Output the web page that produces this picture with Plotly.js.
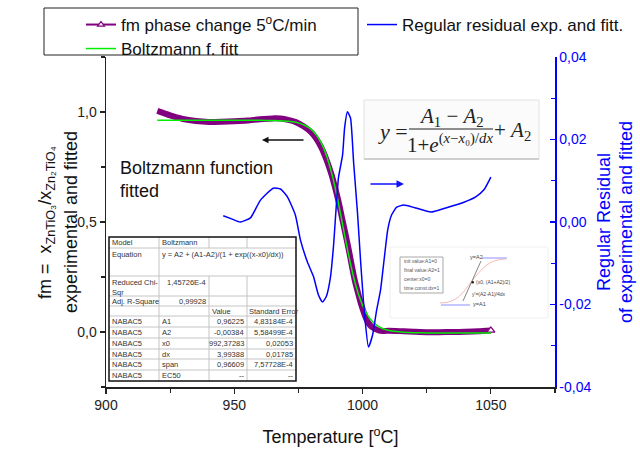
<!DOCTYPE html>
<html><head><meta charset="utf-8">
<script src="https://cdn.plot.ly/plotly-3.0.1.min.js"></script>
<style>html,body{margin:0;padding:0;background:#fff}#chart{width:640px;height:450px}</style>
</head><body><div id="chart"></div>
<script>
// ---------------- data ----------------
const temperature = [920,922.5,925,927.5,930,935,940,945,950,955,960,965,968,971,974,977,980,982,984,986,988,989,990,991,992,993,994,995,996,997,998,999,1000,1001,1002,1003,1004,1006,1008,1010,1013,1016,1020,1025,1030,1035,1040,1045,1050];
const fmExperimental = [1.005,0.995,0.985,0.976,0.968,0.959,0.955,0.956,0.958,0.961,0.967,0.971,0.970,0.964,0.954,0.935,0.907,0.878,0.837,0.781,0.712,0.669,0.624,0.574,0.518,0.464,0.409,0.351,0.290,0.233,0.188,0.144,0.105,0.072,0.046,0.030,0.020,0.008,0.004,0.006,0.005,0.003,0.001,-0.001,-0.001,0.000,0.001,0.003,0.007];
const fmFitted = [0.962,0.962,0.962,0.962,0.962,0.962,0.962,0.962,0.962,0.962,0.962,0.961,0.960,0.958,0.953,0.942,0.921,0.895,0.857,0.799,0.720,0.672,0.619,0.561,0.502,0.441,0.382,0.326,0.274,0.227,0.186,0.151,0.121,0.096,0.076,0.059,0.046,0.027,0.015,0.008,0.002,-0.001,-0.003,-0.004,-0.004,-0.004,-0.004,-0.004,-0.004];
const residualTemperature = [945.7,949.2,952.3,956.3,960.2,965.2,968,970.7,973.8,975.8,978.5,980.9,982.8,984.4,985.9,987.5,988.7,990.6,992.2,993,994.1,995.3,996.5,998,999.2,1000.8,1002.3,1003.9,1005.5,1007,1008.6,1009.8,1011.3,1013.3,1016,1020.7,1026.6,1032.4,1039.5,1044.1,1047.3,1050];
const residualValues = [0.0015,0.0007,0.0000,0.0010,0.0053,0.0082,0.0080,0.0061,0.0017,-0.0044,-0.0097,-0.0133,-0.0177,-0.0194,-0.0180,-0.0133,-0.0056,0.0107,0.0162,0.0228,0.0267,0.0252,0.0145,0.0024,-0.0092,-0.0225,-0.0303,-0.0274,-0.0213,-0.0165,-0.0080,-0.0019,0.0017,0.0036,0.0041,0.0034,0.0024,0.0034,0.0048,0.0061,0.0078,0.0109];

const xTickValues = [900,950,1000,1050];
const xTickLabels = ['900','950','1000','1050'];
const yTickValues = [0,0.5,1];
const yTickLabels = ['0,0','0,5','1,0'];
const y2TickValues = [-0.04,-0.02,0,0.02,0.04];
const y2TickLabels = ['-0,04','-0,02','0,00','0,02','0,04'];

const tableModelRow = ['Model','Boltzmann'];
const tableEquationRow = ['Equation','y = A2 + (A1-A2)/(1 + exp((x-x0)/dx))'];
const tableStatNames = ['Reduced Chi-<br>Sqr','Adj. R-Square'];
const tableStatValues = ['1,45726E-4','0,99928'];
const tableHeader = ['Value','Standard Error'];
const datasetName = 'NABAC5';
const paramNames = ['A1','A2','x0','dx','span','EC50'];
const paramValues = ['0,96225','-0,00384','992,37283','3,99388','0,96609','--'];
const paramErrors = ['4,83184E-4','5,58499E-4','0,02053','0,01785','7,57728E-4','--'];
const insetParams = ['init value:A1=0','final value:A2=1','center:x0=0','time const:dx=1'];

// ---------------- helpers (pixel -> paper) ----------------
const L=106,R=555,T=57,B=387;
const fx = v => (v-L)/(R-L);
const fy = v => (B-v)/(B-T);
const shapes = [];
const annotations = [];
function rect(x0,y0,x1,y1,line,fill,layer){shapes.push({type:'rect',xref:'paper',yref:'paper',x0:fx(x0),x1:fx(x1),y0:fy(y0),y1:fy(y1),line:line,fillcolor:fill||'rgba(0,0,0,0)',layer:layer||'above'});}
function seg(x0,y0,x1,y1,color,w){shapes.push({type:'line',xref:'paper',yref:'paper',x0:fx(x0),x1:fx(x1),y0:fy(y0),y1:fy(y1),line:{color:color,width:w},layer:'above'});}
function txt(text,x,y,opt){annotations.push(Object.assign({text:text,xref:'paper',yref:'paper',x:fx(x),y:fy(y),showarrow:false,xanchor:'left',yanchor:'middle',borderpad:0,font:{family:'Arial, Liberation Sans',size:7.5,color:'#333'}},opt||{}));}

// ---------------- table ----------------
const cx=[109,159,209,247,296];
const ry=[237,248,276,296,306,316,327,338,349,359,370,381];
rect(cx[0],ry[0],cx[4],ry[ry.length-1],{width:0},'#fff');
const grid='#c4c4c4';
for(let i=1;i<ry.length-1;i++) seg(cx[0],ry[i],cx[4],ry[i],grid,1);
seg(cx[1],ry[0],cx[1],ry[ry.length-1],grid,1);
[cx[2],cx[3]].forEach(c=>{seg(c,ry[0],c,ry[1],grid,1);seg(c,ry[2],c,ry[ry.length-1],grid,1);});
rect(cx[0],ry[0],cx[4],ry[ry.length-1],{color:'#111',width:1.5});
txt(tableModelRow[0],cx[0]+2,(ry[0]+ry[1])/2);
txt(tableModelRow[1],cx[1]+2,(ry[0]+ry[1])/2);
txt(tableEquationRow[0],cx[0]+2,ry[1]+1,{yanchor:'top'});
txt(tableEquationRow[1],cx[1]+2,ry[1]+1,{yanchor:'top'});
txt(tableStatNames[0],cx[0]+2,ry[2]+1,{yanchor:'top',align:'left'});
txt(tableStatValues[0],cx[2]-2,ry[2]+1,{yanchor:'top',xanchor:'right'});
txt(tableStatNames[1],cx[0]+2,(ry[3]+ry[4])/2);
txt(tableStatValues[1],cx[2]-2,(ry[3]+ry[4])/2,{xanchor:'right'});
txt(tableHeader[0],cx[2]+2,(ry[4]+ry[5])/2);
txt(tableHeader[1],cx[3]+1,(ry[4]+ry[5])/2);
paramNames.forEach((p,i)=>{
  const yc=(ry[5+i]+ry[6+i])/2;
  txt(datasetName,cx[0]+2,yc);
  txt(p,cx[1]+2,yc);
  txt(paramValues[i],cx[3]-2,yc,{xanchor:'right'});
  txt(paramErrors[i],cx[4]-2,yc,{xanchor:'right'});
});

// ---------------- equation box ----------------
rect(364,100,539,159,{color:'#e2e2e2',width:1},'#fbfbfb','below');
seg(364,159,539,159,'#cfcfcf',2);
const serif='Liberation Serif, Times New Roman, serif';
txt('<i>y</i> =',393,131,{xanchor:'center',font:{family:serif,size:22,color:'#222'}});
txt('<i>A</i><sub>1</sub> − <i>A</i><sub>2</sub>',451,117,{xanchor:'center',font:{family:serif,size:21,color:'#222'}});
seg(409,129,493,129,'#222',1.2);
txt('1+<i>e</i><sup>(<i>x</i>−<i>x</i>₀)/<i>dx</i></sup>',450,143,{xanchor:'center',font:{family:serif,size:21,color:'#222'}});
txt('+ <i>A</i><sub>2</sub>',512,131,{xanchor:'center',font:{family:serif,size:21,color:'#222'}});

// ---------------- small inset ----------------
rect(390,247,548,318,{color:'#f0f0f0',width:1},'#fff','below');
rect(400,257,443,293,{color:'#a8a8a8',width:1},'#fff','above');
insetParams.forEach((s,i)=>txt(s,403,261+i*9,{font:{family:'Arial',size:5,color:'#555'}}));
seg(441,305,470,305,'#8f8fff',1);
seg(482,258,507,258,'#8f8fff',1);
shapes.push({type:'path',xref:'paper',yref:'paper',layer:'above',line:{color:'#f7b8b8',width:1},
  path:'M'+fx(440)+','+fy(303)+' C'+fx(458)+','+fy(303)+' '+fx(463)+','+fy(292)+' '+fx(472)+','+fy(281)+' S'+fx(488)+','+fy(259)+' '+fx(506)+','+fy(259)});
seg(463,301,481,261,'#666',0.8);
shapes.push({type:'circle',xref:'paper',yref:'paper',x0:fx(471.5),x1:fx(474),y0:fy(283.5),y1:fy(281),fillcolor:'#222',line:{width:0},layer:'above'});
txt('y=A2',469,257,{font:{family:'Arial',size:5.5,color:'#444'}});
txt('(x0, (A1+A2)/2)',475,282,{font:{family:'Arial',size:5,color:'#444'}});
txt("y'=(A2-A1)/4dx",471,294,{font:{family:'Arial',size:5,color:'#444'}});
txt('y=A1',472,304,{font:{family:'Arial',size:5.5,color:'#444'}});

// ---------------- other annotations ----------------
txt('Boltzmann function<br>fitted',119,179,{align:'left',font:{family:'Arial, Liberation Sans',size:18,color:'#111'}});
annotations.push({xref:'paper',yref:'paper',x:fx(262),y:fy(140),ax:43,ay:0,text:'',showarrow:true,arrowhead:2,arrowsize:1,arrowwidth:1.3,arrowcolor:'#111'});
annotations.push({xref:'paper',yref:'paper',x:fx(404),y:fy(184),ax:-35,ay:0,text:'',showarrow:true,arrowhead:2,arrowsize:1,arrowwidth:1.5,arrowcolor:'#1010ff'});

// y-axis titles (rotated text)
const titleFont={family:'Arial, Liberation Sans',size:18,color:'#111'};
txt('fm =  x<sub>ZnTiO₃</sub>/x<sub>Zn₂TiO₄</sub>',46,222,{xanchor:'center',textangle:-90,font:titleFont});
txt('experimental and fitted',71,222,{xanchor:'center',textangle:-90,font:titleFont});
const titleFontBlue=Object.assign({},titleFont,{color:'#0000ff'});
txt('Regular Residual',604,222,{xanchor:'center',textangle:-90,font:titleFontBlue});
txt('of experimental and fitted',626,222,{xanchor:'center',textangle:-90,font:titleFontBlue});

// legend frame
shapes.push({type:'rect',xref:'paper',yref:'paper',x0:fx(44),x1:fx(358),y0:fy(55),y1:fy(8),line:{color:'#222',width:1},fillcolor:'rgba(0,0,0,0)'});

// ---------------- traces ----------------
const purple='#800080';
const traces = [
  {x:temperature,y:fmExperimental,mode:'lines',line:{color:purple,width:6,shape:'spline',smoothing:0.6},showlegend:false,hoverinfo:'skip'},
  {x:[temperature[temperature.length-1]],y:[fmExperimental[fmExperimental.length-1]],mode:'markers',marker:{symbol:'triangle-up',size:7,color:'#fff',line:{color:purple,width:1.3}},showlegend:false},
  {x:[null],y:[null],mode:'lines+markers',name:'fm phase change 5<sup>o</sup>C/min',line:{color:purple,width:2},marker:{symbol:'triangle-up',size:6,color:'#fff',line:{color:purple,width:1.2}},legend:'legend'},
  {x:temperature,y:fmFitted,mode:'lines',name:'Boltzmann f. fitt',line:{color:'#00ee00',width:1.5,shape:'spline',smoothing:0.6},legend:'legend3'},
  {x:residualTemperature,y:residualValues,yaxis:'y2',mode:'lines',name:'Regular residual exp. and fitt.',line:{color:'#0000ff',width:1.5,shape:'spline',smoothing:0.5},legend:'legend2'}
];

const blue='#0000ff';
const legendBase={xref:'container',yref:'container',xanchor:'left',yanchor:'top',bgcolor:'rgba(0,0,0,0)',borderwidth:0,font:{size:17,color:'#111'}};
const layout = {
  width:640,height:450,
  margin:{l:L,r:640-R,t:T,b:450-B,autoexpand:false},
  paper_bgcolor:'#fff',plot_bgcolor:'rgba(0,0,0,0)',
  font:{family:'Arial, Liberation Sans, sans-serif',size:14,color:'#222'},
  showlegend:true,
  legend:Object.assign({x:81/640,y:1-7/450},legendBase),
  legend3:Object.assign({x:81/640,y:1-31/450},legendBase),
  legend2:Object.assign({x:362/640,y:1-7/450},legendBase),
  xaxis:{automargin:false,range:[900,1075],tickmode:'array',tickvals:xTickValues,ticktext:xTickLabels,tickangle:0,ticks:'outside',ticklen:5,tickwidth:1.2,tickcolor:'#222',
    showline:true,linecolor:'#222',linewidth:1.5,showgrid:false,zeroline:false,
    minor:{tickmode:'linear',tick0:925,dtick:50,ticks:'outside',ticklen:4,tickwidth:1.2,tickcolor:'#222'},
    title:{text:'Temperature [<sup>o</sup>C]',font:{size:18,color:'#111'},standoff:18}},
  yaxis:{automargin:false,range:[-0.25,1.25],tickmode:'array',tickvals:yTickValues,ticktext:yTickLabels,ticks:'outside',ticklen:5,tickwidth:1.2,tickcolor:'#222',
    showline:true,linecolor:'#222',linewidth:1.5,showgrid:false,zeroline:false,
    minor:{tickmode:'linear',tick0:0.25,dtick:0.5,ticks:'outside',ticklen:4,tickwidth:1.2,tickcolor:'#222'}},
  yaxis2:{automargin:false,overlaying:'y',side:'right',range:[-0.04,0.04],tickmode:'array',tickvals:y2TickValues,ticktext:y2TickLabels,
    ticks:'inside',ticklen:5,tickwidth:1.2,tickcolor:blue,showline:true,linecolor:blue,linewidth:1.5,showgrid:false,zeroline:false,
    tickfont:{color:blue,size:14},
    minor:{tickmode:'linear',tick0:0.01,dtick:0.02,ticks:'inside',ticklen:4,tickwidth:1.2,tickcolor:blue}},
  shapes:shapes,
  annotations:annotations
};
Plotly.newPlot('chart',traces,layout,{displayModeBar:false,staticPlot:true});
</script>
</body></html>
